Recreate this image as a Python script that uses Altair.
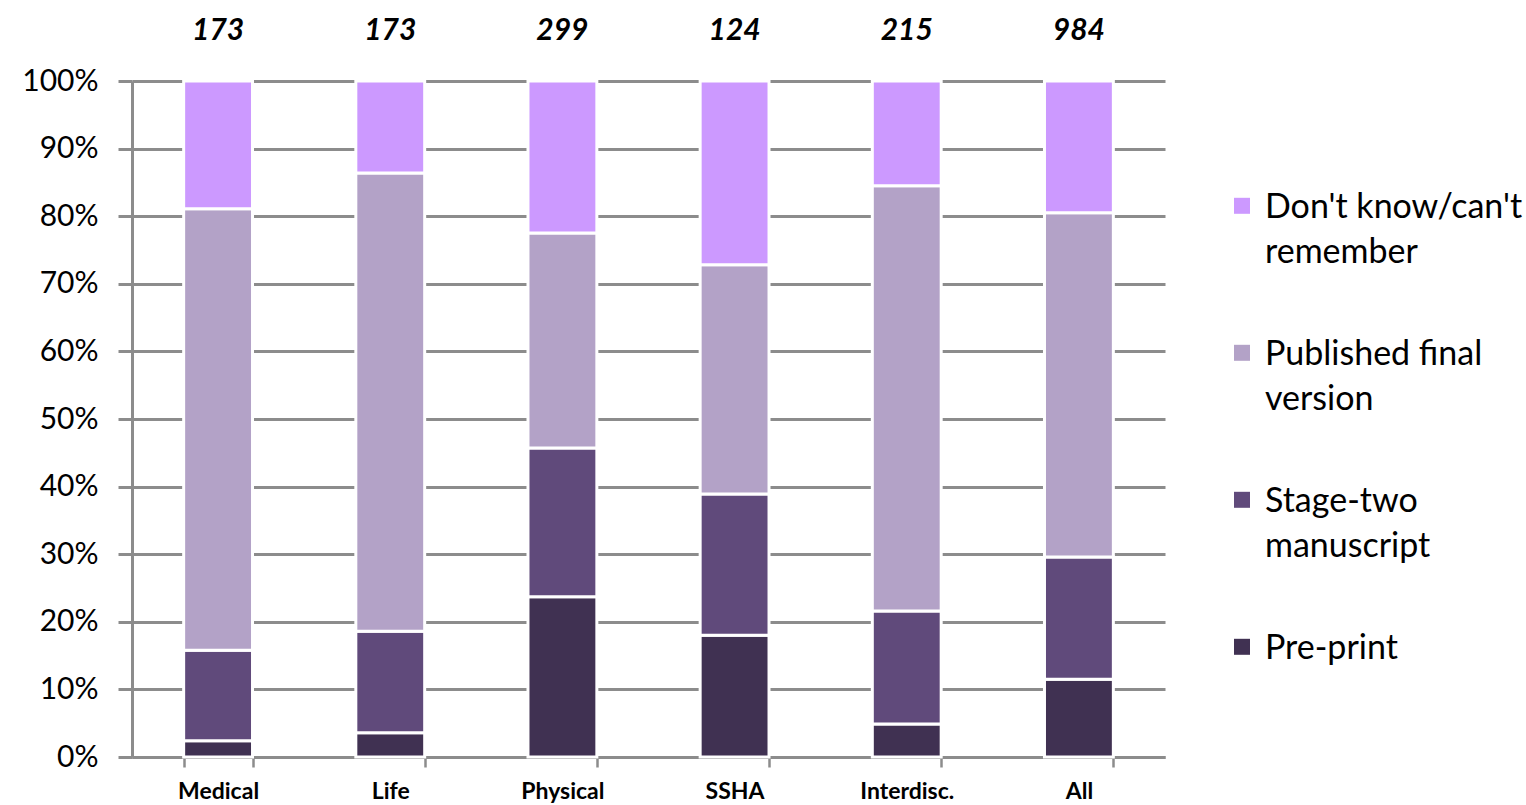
import altair as alt
import pandas as pd

# Share of responses per field, stacked to 100%
fields = ["Medical", "Life", "Physical", "SSHA", "Interdisc.", "All"]
respondents = [173, 173, 299, 124, 215, 984]

pre_print = [2.4, 3.6, 23.7, 18.0, 4.9, 11.5]
stage_two = [13.4, 15.0, 22.0, 20.9, 16.7, 18.1]
published = [65.3, 67.8, 31.8, 33.9, 62.9, 50.9]
dont_know = [18.9, 13.6, 22.5, 27.2, 15.5, 19.5]

series_names = [
    "Pre-print",
    "Stage-two manuscript",
    "Published final version",
    "Don't know/can't remember",
]
series_colors = ["#403152", "#604a7b", "#b3a2c7", "#cc99ff"]

rows = []
for i, f in enumerate(fields):
    for rank, (name, vals) in enumerate(
        zip(series_names, [pre_print, stage_two, published, dont_know])
    ):
        rows.append({"field": f, "series": name, "rank": rank, "pct": vals[i]})
df = pd.DataFrame(rows)
counts = pd.DataFrame({"field": fields, "n": respondents, "top": [100] * len(fields)})

FONT = "Lato"
GREY = "#8c8c8c"
legend_order = list(reversed(series_names))

# Two-line legend labels
label_expr = (
    "datum.label == 'Pre-print' ? ['Pre-print'] : "
    "datum.label == 'Stage-two manuscript' ? ['Stage-two', 'manuscript'] : "
    "datum.label == 'Published final version' ? ['Published final', 'version'] : "
    "['Don\\'t know/can\\'t', 'remember']"
)

# Square swatch drawn a little lower so it sits beside the first label line
swatch = "M -1 0.85 H 1 V 2.85 H -1 Z"

x_enc = alt.X(
    "field:N",
    sort=fields,
    title=None,
    scale=alt.Scale(paddingInner=0.6, paddingOuter=0.3),
    axis=alt.Axis(
        labelFont=FONT,
        labelFontSize=23,
        labelFontWeight="bold",
        labelColor="#000000",
        labelAngle=0,
        labelPadding=13,
        tickBand="extent",
        tickSize=10,
        tickWidth=2.5,
        tickColor=GREY,
        domainColor=GREY,
        domainWidth=3,
        grid=False,
    ),
)

bars = (
    alt.Chart(df)
    .mark_bar(stroke="white", strokeWidth=3)
    .encode(
        x=x_enc,
        y=alt.Y(
            "pct:Q",
            stack="zero",
            scale=alt.Scale(domain=[0, 100], nice=False),
            title=None,
            axis=alt.Axis(
                values=list(range(0, 101, 10)),
                labelExpr="datum.value + '%'",
                labelFont=FONT,
                labelFontSize=30,
                labelColor="#000000",
                labelPadding=20,
                tickSize=14,
                tickWidth=3,
                tickColor=GREY,
                domainColor=GREY,
                domainWidth=3,
                grid=True,
                gridColor=GREY,
                gridWidth=3,
            ),
        ),
        color=alt.Color(
            "series:N",
            scale=alt.Scale(domain=legend_order, range=list(reversed(series_colors))),
            title=None,
            legend=alt.Legend(
                orient="none",
                legendX=1093,
                legendY=93,
                symbolType=swatch,
                symbolSize=256,
                symbolStrokeWidth=0,
                labelFont=FONT,
                labelFontSize=34,
                labelColor="#000000",
                labelLimit=0,
                labelExpr=label_expr,
                labelBaseline="top",
                labelOffset=6,
                rowPadding=51,
            ),
        ),
        order=alt.Order("rank:Q", sort="ascending"),
    )
)

totals = (
    alt.Chart(counts)
    .mark_text(
        font=FONT,
        fontSize=30,
        fontStyle="italic",
        fontWeight="bold",
        color="#000000",
        dy=-50,
    )
    .encode(x=alt.X("field:N", sort=fields), y=alt.Y("top:Q"), text="n:Q")
)

chart = (
    alt.layer(bars, totals)
    .properties(
        width=1033,
        height=676,
        autosize=alt.AutoSizeParams(type="none"),
        padding={"left": 132, "top": 81, "right": 361, "bottom": 48},
    )
    .configure(
        background="white",
        view={"stroke": "transparent"},
        style={"guide-label": {"lineHeight": 45}},
    )
)

chart.save("out.html", embed_options={"renderer": "svg", "actions": False})
